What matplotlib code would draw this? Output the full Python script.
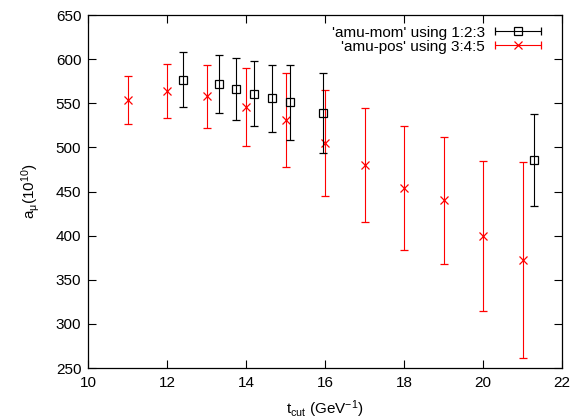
import numpy as np
import matplotlib
matplotlib.use('Agg')
import matplotlib.pyplot as plt
from matplotlib.legend_handler import HandlerErrorbar

# amu-mom (columns 1:2:3)
mom_t = [12.4, 13.3, 13.75, 14.2, 14.65, 15.1, 15.95, 21.3]
mom_a = [577, 572, 566, 561, 556, 551, 539, 486]
mom_err = [31, 33, 35, 37, 38, 42, 45, 52]

# amu-pos (columns 3:4:5)
pos_t = [11, 12, 13, 14, 15, 16, 17, 18, 19, 20, 21]
pos_a = [554, 564, 558, 546, 531, 505, 480, 454, 440, 400, 372]
pos_err = [27, 31, 36, 44, 53, 60, 65, 70, 72, 85, 111]

plt.rcParams['font.family'] = ['Liberation Sans', 'DejaVu Sans']
plt.rcParams['mathtext.fontset'] = 'custom'
plt.rcParams['mathtext.rm'] = 'Liberation Sans'
plt.rcParams['mathtext.it'] = 'Liberation Sans'

FS = 11

fig = plt.figure(figsize=(5.74, 4.2), dpi=100)
ax = fig.add_axes([0.1538, 0.1238, 0.9791 - 0.1538, 0.964 - 0.1238])

common = dict(elinewidth=0.8, capsize=2.6, capthick=0.8, linestyle='none',
              markersize=5.5, markeredgewidth=0.9)
ax.errorbar(mom_t, mom_a, yerr=mom_err, fmt='s', color='black',
            markerfacecolor='none', zorder=3, **common)
ax.errorbar(pos_t, pos_a, yerr=pos_err, fmt='x', color='#ff0000',
            zorder=2, **common)

# legend handles drawn gnuplot-style: horizontal bar with caps
h_mom = ax.errorbar([np.nan], [np.nan], xerr=[1], fmt='s', color='black',
                    markerfacecolor='none', **common)
h_pos = ax.errorbar([np.nan], [np.nan], xerr=[1], fmt='x', color='#ff0000',
                    **common)
ax.legend([h_mom, h_pos],
          ["'amu-mom' using 1:2:3", "'amu-pos' using 3:4:5"],
          loc='upper right', bbox_to_anchor=(1 - 10 / 474, 1),
          frameon=False, markerfirst=False,
          handlelength=3.0, handletextpad=0.7, labelspacing=0.0,
          borderaxespad=0.3, fontsize=FS,
          handler_map={type(h_mom): HandlerErrorbar(xerr_size=1.5)})

ax.set_xlim(10, 22)
ax.set_ylim(250, 650)
ax.set_xticks(range(10, 23, 2))
ax.set_yticks(range(250, 651, 50))
ax.tick_params(direction='in', length=5.5, width=0.8, top=True, right=True,
               labelsize=FS)
ax.tick_params(axis='x', pad=6)
ax.tick_params(axis='y', pad=5)
for s in ax.spines.values():
    s.set_linewidth(0.9)

ax.set_xlabel(r't$_{\mathrm{cut}}$ (GeV$^{\mathrm{-1}}$)', fontsize=FS, labelpad=6)
ax.set_ylabel(r'a$_{\mu}$(10$^{\mathrm{10}}$)', fontsize=FS, labelpad=10)

fig.savefig('out.png', dpi=100)
